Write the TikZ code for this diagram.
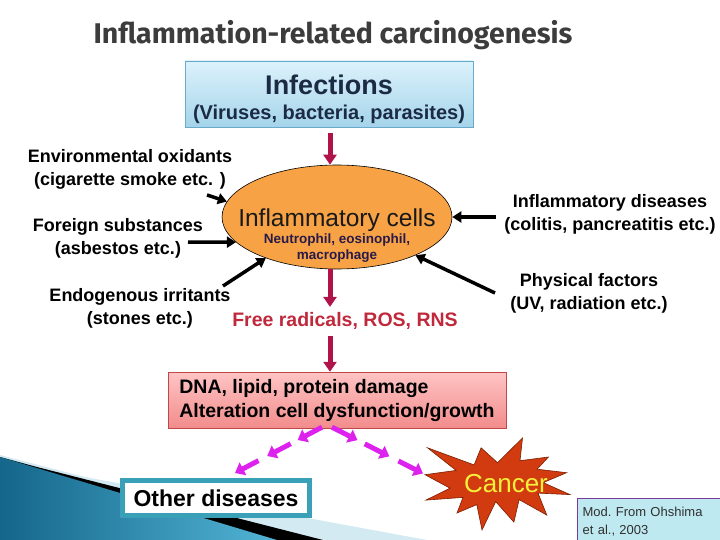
\documentclass[tikz,border=0pt]{standalone}
\usepackage{fontspec}
\setmainfont{Liberation Sans}
\newfontfamily\titlefont{Fira Sans}
\usetikzlibrary{arrows.meta,shapes.geometric,calc}
\definecolor{titlegray}{HTML}{3C3C3C}
\definecolor{inftop}{HTML}{DCF2FB}
\definecolor{infbot}{HTML}{A4D4EA}
\definecolor{infborder}{HTML}{6AAACA}
\definecolor{inftext}{HTML}{1B2B44}
\definecolor{orangec}{HTML}{F7A244}
\definecolor{navyc}{HTML}{2A1A4A}
\definecolor{crimsonc}{HTML}{B0124A}
\definecolor{radc}{HTML}{C0283C}
\definecolor{dmgtop}{HTML}{FFC4C4}
\definecolor{dmgbot}{HTML}{F28C8C}
\definecolor{dmgborder}{HTML}{C04848}
\definecolor{magc}{HTML}{DD22EE}
\definecolor{tealc}{HTML}{3AA0B8}
\definecolor{starc}{HTML}{D23A10}
\definecolor{starb}{HTML}{7A2000}
\definecolor{cancerc}{HTML}{F5F03A}
\definecolor{citec}{HTML}{BFE9F0}
\definecolor{citeb}{HTML}{7A3A9A}
\definecolor{citet}{HTML}{303030}
\definecolor{lightstrip}{HTML}{D4EAF2}
\definecolor{bluedark}{HTML}{14668A}
\definecolor{bluelight}{HTML}{52B4D6}
\tikzset{
  lbl/.style={font=\fontsize{18}{23}\selectfont\bfseries, align=center},
  blk/.style={line width=3.5pt, -{Triangle[length=9pt,width=11pt]}},
  crim/.style={crimsonc, line width=5pt, -{Triangle[length=10pt,width=13pt]}},
  mag/.style={magc, line width=5pt, -{Triangle[length=9pt,width=14pt]}},
}
\begin{document}
\begin{tikzpicture}[x=1pt,y=-1pt]
\useasboundingbox (0,0) rectangle (720,540);
% theme decoration bottom-left
\fill[lightstrip] (0,455) -- (85,477) -- (427,540) -- (0,540) -- cycle;
\fill[black] (0,457) -- (37,467) -- (323,540) -- (0,540) -- cycle;
\shade[left color=bluedark, right color=bluelight] (0,457) -- (277,540) -- (0,540) -- cycle;

% title
\node[font=\titlefont\bfseries\fontsize{28.5}{30}\selectfont, text=titlegray] (title) at (333,35) {Inflammation-related carcinogenesis};

% infections
\node[draw=infborder, top color=inftop, bottom color=infbot, minimum width=288pt, minimum height=66pt, inner sep=0pt, align=center, text=inftext, font=\bfseries\fontsize{20}{24}\selectfont] (inf) at (329,94)
  {\rule{0pt}{31pt}{\fontsize{27}{27}\selectfont Infections}\\[1pt](Viruses, bacteria, parasites)};

% inflammatory cells
\node[ellipse, draw=black, line width=0.6pt, fill=orangec, minimum width=230pt, minimum height=104pt, inner sep=0pt] (infl) at (337,217) {};
\node[align=center, text=navyc, font=\bfseries\fontsize{13.5}{16}\selectfont] (infltxt) at (337,236)
  {{\mdseries\fontsize{24.5}{25}\selectfont\color{black!90}Inflammatory cells}\\[1pt]Neutrophil, eosinophil,\\macrophage};

% labels
\node[lbl] (env) at (130,169.5) {Environmental oxidants\\(cigarette smoke etc. )};
\node[lbl] (for) at (118,238) {Foreign substances\\(asbestos etc.)};
\node[lbl] (endo) at (140,308.5) {Endogenous irritants\\(stones etc.)};
\node[lbl] (idis) at (610,214) {Inflammatory diseases\\(colitis, pancreatitis etc.)};
\node[lbl] (phys) at (589,293.5) {Physical factors\\(UV, radiation etc.)};

\coordinate (envt) at (207,195);
\coordinate (fort) at (188,242);
\coordinate (endot) at (223,286);
\coordinate (idist) at (496,217);
\coordinate (physt) at (495,293);
\draw[blk] (envt) -- (infl.172);
\draw[blk] (fort) -- (infl.194);
\draw[blk] (endot) -- (infl.210);
\draw[blk] (idist) -- (infl.0);
\draw[blk] (physt) -- (infl.-26);

% free radicals
\node[font=\fontsize{19.5}{22}\selectfont\bfseries, text=radc] (frr) at (345,321) {Free radicals, ROS, RNS};

% damage box
\node[draw=dmgborder, top color=dmgtop, bottom color=dmgbot, minimum width=338pt, minimum height=56pt, inner sep=0pt, align=left, font=\fontsize{19.5}{24}\selectfont\bfseries] (dmg) at (337,400)
  {DNA, lipid, protein damage\\Alteration cell dysfunction/growth};

% crimson arrows
\coordinate (col) at (330,0);
\draw[crim] ([yshift=-6pt]inf.south -| col) -- (infl.north -| col);
\draw[crim] (infl.south -| col) -- ([yshift=2pt]frr.north -| col);
\draw[crim] ([yshift=-3pt]frr.south -| col) -- (dmg.north -| col);

% other diseases
\node[draw=tealc, line width=5pt, fill=white, minimum width=187pt, minimum height=35pt, inner sep=0pt, font=\fontsize{23}{26}\selectfont\bfseries] (oth) at (216,498) {Other diseases};

% cancer star
\fill[starc, draw=starb, line width=0.6pt]
 (497.5,462.7) -- (522.5,438) -- (520.0,460.7) -- (548.4,457.0) -- (537.1,469.2) -- (566.6,472.7) -- (543.2,482.6) -- (570,494.6) -- (538.0,493.1) -- (546.8,515.1) -- (519.1,499.6) -- (513.9,522.1) -- (495.7,501.6) -- (482.0,530) -- (476.8,504.6) -- (457.0,513.0) -- (463.0,497.4) -- (425.9,500.1) -- (450.0,488.2) -- (425,474.7) -- (456.1,470.4) -- (427.5,447.8) -- (474.1,464.9) -- (481.1,447.8) -- cycle;
\coordinate (startip) at (423,473.5);
\node[font=\fontsize{26}{28}\selectfont, text=cancerc] (cancer) at (506,484) {Cancer};

% magenta arrows
\coordinate (la) at ($(dmg.south)+(-15,-1)$);
\coordinate (lb) at ($(oth.north)+(19,-5)$);
\coordinate (ra) at ($(dmg.south)+(-5,-1)$);
\draw[mag] (la) -- ($(la)!0.28!(lb)$);
\draw[mag] ($(la)!0.36!(lb)$) -- ($(la)!0.63!(lb)$);
\draw[mag] ($(la)!0.73!(lb)$) -- (lb);
\draw[mag] (ra) -- ($(ra)!0.28!(startip)$);
\draw[mag] ($(ra)!0.36!(startip)$) -- ($(ra)!0.63!(startip)$);
\draw[mag] ($(ra)!0.73!(startip)$) -- (startip);

% citation
\node[draw=citeb, line width=1.2pt, fill=citec, anchor=north west, text width=134pt, minimum height=46pt, inner sep=5pt, align=left, text=citet, font=\fontsize{13}{18}\selectfont] (cite) at (577,498) {Mod.\ From Ohshima\\et al., 2003};
\end{tikzpicture}
\end{document}
